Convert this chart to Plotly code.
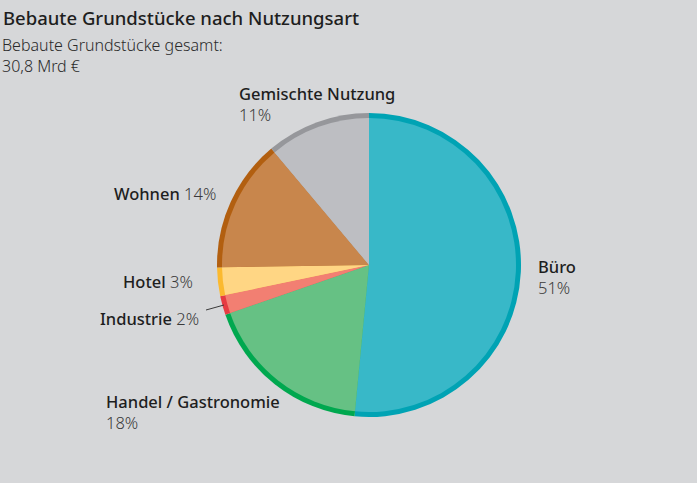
import plotly.graph_objects as go

W, H = 697, 483

categories = ["Büro", "Handel / Gastronomie", "Industrie", "Hotel", "Wohnen", "Gemischte Nutzung"]
values = [51, 18, 2, 3, 14, 11]
fill_colors = ["#38b8c8", "#66c184", "#f27f72", "#ffd684", "#c8864c", "#bdbec2"]
ring_colors = ["#00a3b4", "#00a84f", "#e63c42", "#fbb92f", "#b25f10", "#96979b"]

title = "Bebaute Grundstücke nach Nutzungsart"
subtitle = ["Bebaute Grundstücke gesamt:", "30,8 Mrd €"]

FONT = "Noto Sans"
BG = "#d6d7d9"


def px(x):
    return x / W


def py(y):
    return 1 - y / H


cx, cy, r_out, r_in = 369, 265, 152, 147

fig = go.Figure()
fig.add_trace(go.Pie(
    labels=categories, values=values, sort=False, direction="clockwise", rotation=0,
    marker=dict(colors=ring_colors, line=dict(width=0)), textinfo="none",
    hoverinfo="label+percent", showlegend=False,
    domain=dict(x=[px(cx - r_out), px(cx + r_out)], y=[py(cy + r_out), py(cy - r_out)]),
))
fig.add_trace(go.Pie(
    labels=categories, values=values, sort=False, direction="clockwise", rotation=0,
    marker=dict(colors=fill_colors, line=dict(width=0)), textinfo="none",
    hoverinfo="label+percent", showlegend=False,
    domain=dict(x=[px(cx - r_in), px(cx + r_in)], y=[py(cy + r_in), py(cy - r_in)]),
))

NAME_C = "#1e1e1e"
PCT_C = "#3a3a3a"
FS = 16.5


def lab(name, pct):
    return (f"<span style='color:{NAME_C};font-weight:500'>{name}</span> "
            f"<span style='color:{PCT_C};font-weight:300'>{pct}</span>")


def lab2(name, pct):
    return (f"<span style='color:{NAME_C};font-weight:500'>{name}</span><br>"
            f"<span style='color:{PCT_C};font-weight:300'>{pct}</span>")


pcts = [f"{v}%" for v in values]

ann = []
ann.append(dict(x=px(1), y=py(18), text=f"<span style='font-weight:500'>{title}</span>",
                xanchor="left", yanchor="middle",
                font=dict(size=18.5, color="#1e1e1e", family=FONT)))
ann.append(dict(x=px(0), y=py(56), text=f"<span style='font-weight:300'>{'<br>'.join(subtitle)}</span>",
                xanchor="left", yanchor="middle",
                align="left", font=dict(size=16, color="#2a2a2a", family=FONT)))
ann.append(dict(x=px(536), y=py(277), text=lab2(categories[0], pcts[0]), xanchor="left",
                yanchor="middle", align="left"))
ann.append(dict(x=px(104), y=py(412), text=lab2(categories[1], pcts[1]), xanchor="left",
                yanchor="middle", align="left"))
ann.append(dict(x=px(201), y=py(318), text=lab(categories[2], pcts[2]), xanchor="right",
                yanchor="middle", align="right"))
ann.append(dict(x=px(195), y=py(281), text=lab(categories[3], pcts[3]), xanchor="right",
                yanchor="middle", align="right"))
ann.append(dict(x=px(218), y=py(193), text=lab(categories[4], pcts[4]), xanchor="right",
                yanchor="middle", align="right"))
ann.append(dict(x=px(237), y=py(104), text=lab2(categories[5], pcts[5]), xanchor="left",
                yanchor="middle", align="left"))

for a in ann:
    a.update(xref="paper", yref="paper", showarrow=False)
    if "font" not in a:
        a["font"] = dict(size=FS, family=FONT)

fig.update_layout(
    width=W, height=H,
    margin=dict(l=0, r=0, t=0, b=0),
    paper_bgcolor=BG, plot_bgcolor=BG,
    annotations=ann,
    shapes=[dict(type="line", xref="paper", yref="paper",
                 x0=px(206), y0=py(310), x1=px(224), y1=py(305),
                 line=dict(color="#3a3a3a", width=1))],
)

fig.write_html(
    "out.html",
    config={"displayModeBar": False},
    post_script=f"document.body.style.margin='0';document.body.style.background='{BG}';",
)
